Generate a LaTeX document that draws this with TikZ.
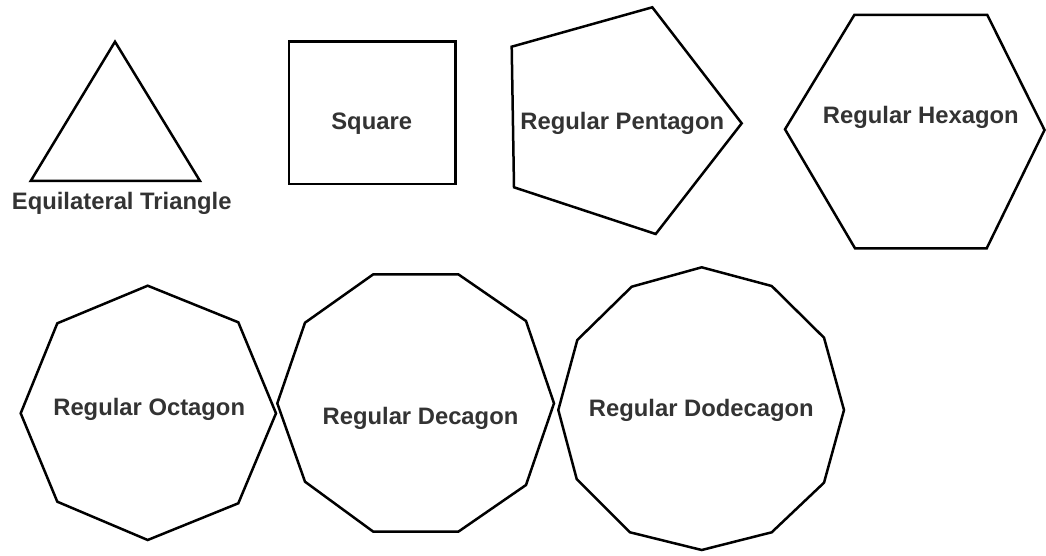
\documentclass[tikz,border=0pt]{standalone}
\usepackage{fontspec}
\setmainfont{Liberation Sans}
\usepackage{tikz}
\usetikzlibrary{positioning}
\definecolor{ink}{HTML}{333333}
\tikzset{
    every picture/.style={line cap=round,line join=miter},
    polyline/.style={draw=black,line width=2.5pt},
    shapelabel/.style={text=ink,font=\fontsize{23.8}{28}\selectfont\bfseries,
      inner sep=0pt,anchor=base}
}

\begin{document}
\begin{tikzpicture}[x=1pt,y=-1pt]
  \fill[white] (0,0) rectangle (1046,556);
  \useasboundingbox (0,0) rectangle (1046,556);
  % top row
  \draw[polyline] (115,41.7)--(200,181)--(30.7,181)--cycle;
  \node[shapelabel] (tri) at (121.7,209){Equilateral Triangle};
  \draw[polyline] (289,41.7) rectangle (455.7,184);
  \node[shapelabel] (sq) at (371.7,130){Square};
  \draw[polyline] (511.7,46.7)--(652.3,7.3)--(741.7,123.3)--(655.7,234)--(514,187.3)--cycle;
  \node[shapelabel] (pent) at (622.3,130){Regular Pentagon};
  \draw[polyline] (785,129.3)--(854.3,15)--(987.3,15)--(1044.5,130)--(986.7,248.3)--(855,248.3)--cycle;
  \node[shapelabel] (hex) at (920.8,124){Regular Hexagon};
  % bottom row
  \draw[polyline] (147.7,285.7)--(238.3,322.3)--(276,413.3)--(238.3,503.3)--(147.7,540)
    --(57.3,501.7)--(20.7,413.3)--(57.3,323.3)--cycle;
  \node[shapelabel] (oct) at (149.2,415.7){Regular Octagon};
  \draw[polyline] (373.3,274.3)--(458.3,274.3)--(526,321)--(554,403.3)--(526,485)--(458.3,531.7)
    --(373.3,531.7)--(305,481.7)--(277.3,403.3)--(305,322.7)--cycle;
  \node[shapelabel] (dec) at (420.5,424){Regular Decagon};
  \draw[polyline] (701.7,267.3)--(771.7,286)--(824,337.7)--(844,410)--(824,482.7)--(771.7,532.3)
    --(701.7,550)--(630,532.3)--(576.7,479)--(558.3,410)--(577.3,340)--(631.7,286.7)--cycle;
  \node[shapelabel] (dodec) at (701.3,416.7){Regular Dodecagon};
\end{tikzpicture}
\end{document}
